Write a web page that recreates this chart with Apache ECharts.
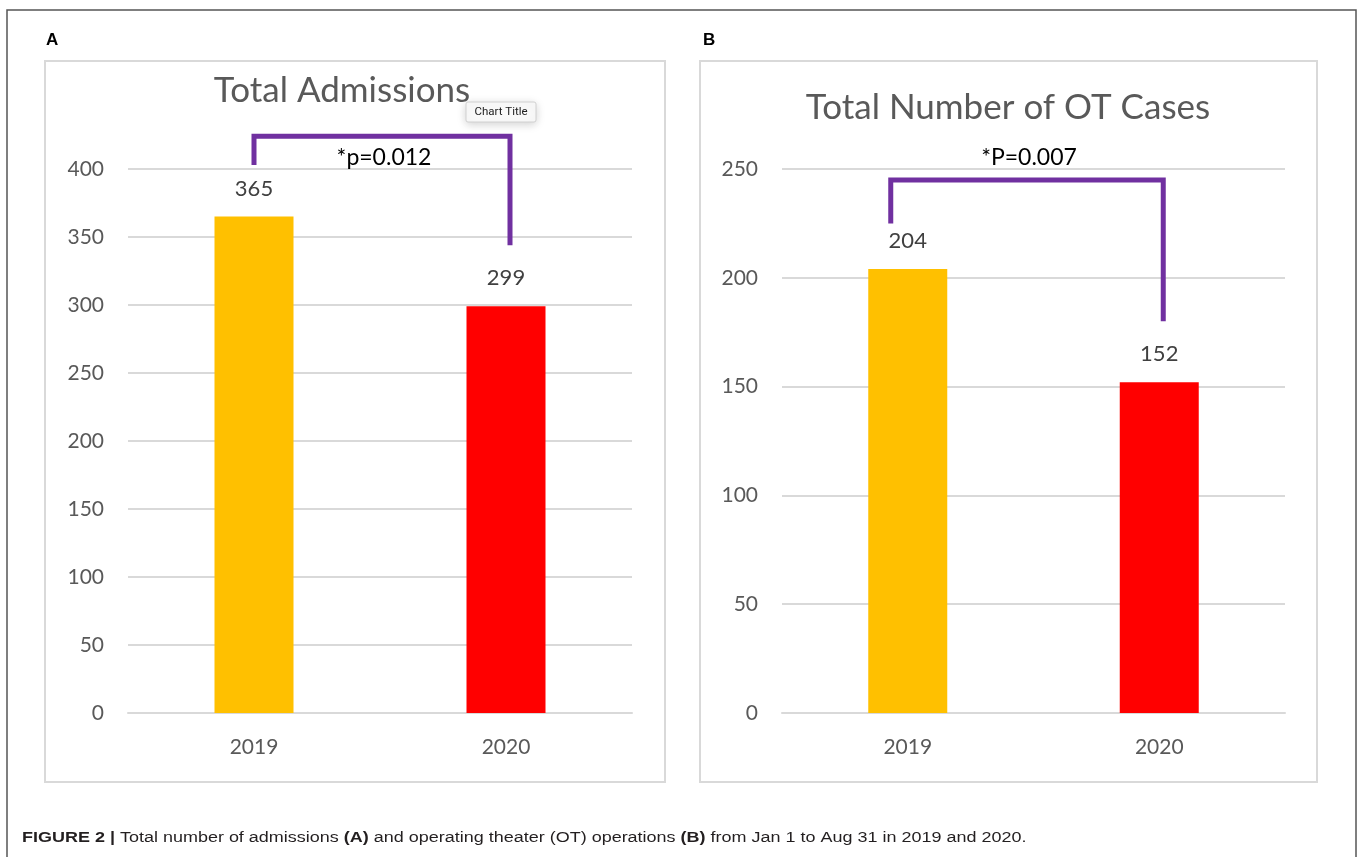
<!DOCTYPE html>
<html>
<head>
<meta charset="utf-8">
<script src="https://cdn.jsdelivr.net/npm/echarts@6/dist/echarts.min.js"></script>
<style>
html,body{margin:0;padding:0;background:#fff;}
#chart{width:1360px;height:857px;}
</style>
</head>
<body>
<div id="chart"></div>
<script>
// ---- data ----
const categories = ['2019', '2020'];
const admissions = [365, 299];
const otCases = [204, 152];
const admissionsTicks = { min: 0, max: 400, interval: 50 };
const otTicks = { min: 0, max: 250, interval: 50 };
const titleA = 'Total Admissions';
const titleB = 'Total Number of OT Cases';
const pA = '*p=0.012';
const pB = '*P=0.007';
// bracket heights in data units: [left end, top, right end]
const bracketA = [403, 424, 344];
const bracketB = [225, 245, 180];
const barColors = ['#FFC000', '#FF0000'];

const FONT = 'Lato, "Open Sans", sans-serif';
const chart = echarts.init(document.getElementById('chart'));

function yAxis(idx, t) {
  return {
    gridIndex: idx, type: 'value', min: t.min, max: t.max, interval: t.interval,
    axisLine: { show: false }, axisTick: { show: false },
    axisLabel: { fontSize: 21, color: '#595959', fontFamily: FONT, margin: 24 },
    splitLine: { lineStyle: { color: '#d9d9d9', width: 2 } }
  };
}
function xAxis(idx) {
  return {
    gridIndex: idx, type: 'category', data: categories,
    axisLine: { lineStyle: { color: '#d9d9d9', width: 2 } }, axisTick: { show: false },
    axisLabel: { fontSize: 21, color: '#595959', fontFamily: FONT, margin: 24 }
  };
}
function bars(idx, data) {
  return {
    type: 'bar', xAxisIndex: idx, yAxisIndex: idx, barWidth: 79,
    data: data.map((v, i) => ({ value: v, itemStyle: { color: barColors[i] } })),
    label: { show: true, position: 'top', distance: 17, fontSize: 22, color: '#404040', fontFamily: FONT },
    silent: true
  };
}

chart.setOption({
  animation: false,
  grid: [
    { left: 128, right: 728, top: 169, bottom: 144 },
    { left: 782, right: 75, top: 169, bottom: 144 }
  ],
  xAxis: [xAxis(0), xAxis(1)],
  yAxis: [yAxis(0, admissionsTicks), yAxis(1, otTicks)],
  series: [bars(0, admissions), bars(1, otCases)]
});

function px(gi, cat, val) {
  return chart.convertToPixel({ gridIndex: gi }, [cat, val]);
}
function bracket(gi, b, lOff, rOff, label, labelDy) {
  const l0 = px(gi, 0, b[0]), lt = px(gi, 0, b[1]);
  const r0 = px(gi, 1, b[2]);
  const xl = l0[0] + lOff, xr = r0[0] + rOff;
  return [
    { type: 'polyline', z: 50,
      shape: { points: [[xl, l0[1]], [xl, lt[1]], [xr, lt[1]], [xr, r0[1]]] },
      style: { stroke: '#7030A0', lineWidth: 5, fill: null } },
    { type: 'text', z: 50, x: (xl + xr) / 2 + 2, y: lt[1] + labelDy,
      style: { text: label, fontSize: 23, fill: '#000', fontFamily: FONT, align: 'center', verticalAlign: 'middle' } }
  ];
}

const CAPFONT = '"Liberation Sans", Arial, sans-serif';
const graphics = [
  // outer figure border
  { type: 'polyline', shape: { points: [[7, 870], [7, 10], [1356, 10], [1356, 870]] },
    style: { stroke: '#555', lineWidth: 1.5, fill: null } },
  // panel boxes
  { type: 'rect', shape: { x: 45, y: 61, width: 620, height: 721 }, style: { stroke: '#d9d9d9', lineWidth: 2, fill: null } },
  { type: 'rect', shape: { x: 700, y: 61, width: 617, height: 721 }, style: { stroke: '#d9d9d9', lineWidth: 2, fill: null } },
  // panel letters
  { type: 'text', x: 46, y: 40, style: { text: 'A', fontSize: 17, fontWeight: 'bold', fill: '#000', fontFamily: CAPFONT, verticalAlign: 'middle' } },
  { type: 'text', x: 703, y: 40, style: { text: 'B', fontSize: 17, fontWeight: 'bold', fill: '#000', fontFamily: CAPFONT, verticalAlign: 'middle' } },
  // chart titles
  { type: 'text', x: 342, y: 91, style: { text: titleA, fontSize: 35, fill: '#595959', fontFamily: FONT, align: 'center', verticalAlign: 'middle' } },
  { type: 'text', x: 1008, y: 108, style: { text: titleB, fontSize: 35, fill: '#595959', fontFamily: FONT, align: 'center', verticalAlign: 'middle' } },
  // "Chart Title" tooltip
  { type: 'rect', z: 60, shape: { x: 466, y: 102, width: 70, height: 20, r: 2 },
    style: { fill: '#fafafa', stroke: '#d0d0d0', lineWidth: 1, shadowBlur: 10, shadowColor: 'rgba(0,0,0,0.18)', shadowOffsetY: 2 } },
  { type: 'text', z: 61, x: 501, y: 112, style: { text: 'Chart Title', fontSize: 11.5, fill: '#222', fontFamily: 'Roboto, "Noto Sans", sans-serif', align: 'center', verticalAlign: 'middle' } },
  // caption
  { type: 'text', x: 22, y: 838, scaleX: 1.16, style: {
      text: '{b|FIGURE 2 |} Total number of admissions {b|(A)} and operating theater (OT) operations {b|(B)} from Jan 1 to Aug 31 in 2019 and 2020.',
      verticalAlign: 'middle',
      rich: {
        b: { fontWeight: 'bold', fontSize: 15.5, fill: '#231f20', fontFamily: CAPFONT }
      },
      fontSize: 15.5, fill: '#231f20', fontFamily: CAPFONT } }
];
graphics.push(...bracket(0, bracketA, 0, 4, pA, 21));
graphics.push(...bracket(1, bracketB, -17, 4, pB, -22));

chart.setOption({ graphic: graphics });
</script>
</body>
</html>
